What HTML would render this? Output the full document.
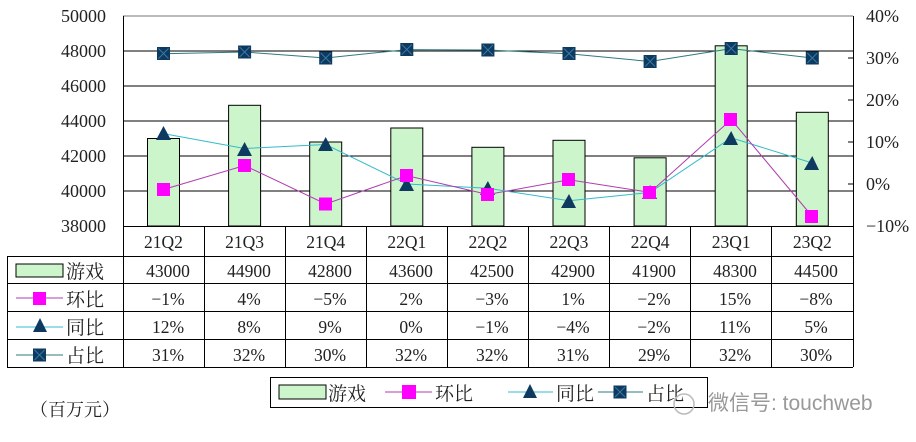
<!DOCTYPE html>
<html><head><meta charset="utf-8"><style>
html,body{margin:0;padding:0;background:#fff;}
svg{display:block;font-family:"Liberation Serif","Noto Serif CJK SC",serif;}
</style></head><body>
<svg width="916" height="442" viewBox="0 0 916 442" xmlns="http://www.w3.org/2000/svg">
<defs>
<g id="xs"><rect x="-6.5" y="-6.5" width="13" height="13" fill="#0d3a5e"/><path d="M-5,-5L5,5M5,-5L-5,5" stroke="#3a7aa8" stroke-width="0.9"/></g>
</defs>
<rect width="916" height="442" fill="#fff"/>
<g stroke="#000" stroke-width="1">
<line x1="123" y1="51" x2="853" y2="51"/>
<line x1="123" y1="86" x2="853" y2="86"/>
<line x1="123" y1="121" x2="853" y2="121"/>
<line x1="123" y1="156" x2="853" y2="156"/>
<line x1="123" y1="191" x2="853" y2="191"/>
</g>
<line x1="123" y1="16" x2="853" y2="16" stroke="#777"/>
<line x1="123.5" y1="16" x2="123.5" y2="367" stroke="#000"/>
<line x1="853.5" y1="16" x2="853.5" y2="256" stroke="#000"/>
<g stroke="#000"><line x1="848" y1="58" x2="853" y2="58"/><line x1="848" y1="100" x2="853" y2="100"/><line x1="848" y1="142" x2="853" y2="142"/><line x1="848" y1="184" x2="853" y2="184"/></g>
<g font-size="18" text-anchor="end" fill="#222">
<text x="106" y="22">50000</text><text x="106" y="57">48000</text><text x="106" y="92">46000</text>
<text x="106" y="127">44000</text><text x="106" y="162">42000</text><text x="106" y="197">40000</text><text x="106" y="232">38000</text>
</g>
<g font-size="18" fill="#222">
<text x="866" y="22">40%</text><text x="866" y="64">30%</text><text x="866" y="106">20%</text>
<text x="866" y="148">10%</text><text x="866" y="190">0%</text><text x="866" y="232">−10%</text>
</g>
<g fill="#ccf5cc" stroke="#000" stroke-width="1">
<rect x="147.5" y="138.5" width="32" height="87.5"/>
<rect x="228.6" y="105.3" width="32" height="120.7"/>
<rect x="309.7" y="142" width="32" height="84"/>
<rect x="390.8" y="128" width="32" height="98"/>
<rect x="471.9" y="147.3" width="32" height="78.7"/>
<rect x="553" y="140.3" width="32" height="85.7"/>
<rect x="634.1" y="157.8" width="32" height="68.2"/>
<rect x="715.2" y="45.8" width="32" height="180.2"/>
<rect x="796.3" y="112.3" width="32" height="113.7"/>
</g>
<polyline fill="none" stroke="#2e7a80" stroke-width="1" points="163.5,53.8 244.6,52 325.7,58 406.8,49.6 487.9,50 569,53.8 650.1,61.5 731.2,48.6 812.3,58"/>
<use href="#xs" x="163.5" y="53.5"/><use href="#xs" x="244.6" y="52"/><use href="#xs" x="325.7" y="58"/>
<use href="#xs" x="406.8" y="49.5"/><use href="#xs" x="487.9" y="50"/><use href="#xs" x="569" y="53.5"/>
<use href="#xs" x="650.1" y="61.5"/><use href="#xs" x="731.2" y="48.5"/><use href="#xs" x="812.3" y="58"/>
<polyline fill="none" stroke="#33bbcc" stroke-width="1" points="163.5,133.6 244.6,148.5 325.7,144.5 406.8,184 487.9,188.2 569,200.8 650.1,192.4 731.2,137.8 812.3,163"/>
<g fill="#0d3a5e">
<polygon points="163.5,126 156,140 171,140"/><polygon points="244.6,142 237,156 252,156"/><polygon points="325.7,137 318,151 333,151"/>
<polygon points="406.8,177 399,191 414,191"/><polygon points="487.9,181 480,195 495,195"/><polygon points="569,194 561,208 576,208"/>
<polygon points="650.1,185 642,199 657,199"/><polygon points="731.2,131 723,145 738,145"/><polygon points="812.3,156 804,170 819,170"/>
</g>
<polyline fill="none" stroke="#b03cb0" stroke-width="1" points="163.5,189.5 244.6,165.5 325.7,204 406.8,175.6 487.9,194.5 569,179.8 650.1,192.4 731.2,119.5 812.3,216.5"/>
<g fill="#ff00ff">
<rect x="157" y="183" width="13" height="13"/><rect x="238" y="159" width="13" height="13"/><rect x="319" y="197.5" width="13" height="13"/>
<rect x="400" y="169" width="13" height="13"/><rect x="481" y="188" width="13" height="13"/><rect x="562" y="173" width="13" height="13"/>
<rect x="643" y="186" width="13" height="13"/><rect x="724" y="113" width="13" height="13"/><rect x="805" y="210" width="13" height="13"/>
</g>
<g stroke="#000" stroke-width="1">
<line x1="123" y1="226.5" x2="853" y2="226.5"/>
<line x1="7" y1="256.5" x2="853" y2="256.5"/>
<line x1="7" y1="283.5" x2="853" y2="283.5"/>
<line x1="7" y1="311.5" x2="853" y2="311.5"/>
<line x1="7" y1="339.5" x2="853" y2="339.5"/>
<line x1="7" y1="367.5" x2="853" y2="367.5"/>
<line x1="7.5" y1="256" x2="7.5" y2="367"/>
<line x1="204.5" y1="226" x2="204.5" y2="367"/><line x1="285.5" y1="226" x2="285.5" y2="367"/>
<line x1="366.5" y1="226" x2="366.5" y2="367"/><line x1="447.5" y1="226" x2="447.5" y2="367"/>
<line x1="528.5" y1="226" x2="528.5" y2="367"/><line x1="609.5" y1="226" x2="609.5" y2="367"/>
<line x1="690.5" y1="226" x2="690.5" y2="367"/><line x1="771.5" y1="226" x2="771.5" y2="367"/>
<line x1="853.5" y1="226" x2="853.5" y2="367"/>
</g>
<g font-size="17.5" text-anchor="middle" fill="#222">
<text x="163.5" y="248">21Q2</text><text x="244.6" y="248">21Q3</text><text x="325.7" y="248">21Q4</text><text x="406.8" y="248">22Q1</text><text x="487.9" y="248">22Q2</text><text x="569" y="248">22Q3</text><text x="650.1" y="248">22Q4</text><text x="731.2" y="248">23Q1</text><text x="812.3" y="248">23Q2</text>
<text x="168" y="277">43000</text><text x="249" y="277">44900</text><text x="330" y="277">42800</text><text x="411" y="277">43600</text><text x="492" y="277">42500</text><text x="573" y="277">42900</text><text x="654" y="277">41900</text><text x="735" y="277">48300</text><text x="816" y="277">44500</text>
<text x="168" y="305">−1%</text><text x="249" y="305">4%</text><text x="330" y="305">−5%</text><text x="411" y="305">2%</text><text x="492" y="305">−3%</text><text x="573" y="305">1%</text><text x="654" y="305">−2%</text><text x="735" y="305">15%</text><text x="816" y="305">−8%</text>
<text x="168" y="333">12%</text><text x="249" y="333">8%</text><text x="330" y="333">9%</text><text x="411" y="333">0%</text><text x="492" y="333">−1%</text><text x="573" y="333">−4%</text><text x="654" y="333">−2%</text><text x="735" y="333">11%</text><text x="816" y="333">5%</text>
<text x="168" y="361">31%</text><text x="249" y="361">32%</text><text x="330" y="361">30%</text><text x="411" y="361">32%</text><text x="492" y="361">32%</text><text x="573" y="361">31%</text><text x="654" y="361">29%</text><text x="735" y="361">32%</text><text x="816" y="361">30%</text>
</g>
<rect x="16" y="264" width="47" height="13" fill="#ccf5cc" stroke="#000"/>
<line x1="16" y1="298" x2="63" y2="298" stroke="#b03cb0"/><rect x="33" y="292" width="13" height="13" fill="#ff00ff"/>
<line x1="16" y1="327" x2="63" y2="327" stroke="#33bbcc"/><polygon points="40,318 33,332 47,332" fill="#0d3a5e"/>
<line x1="16" y1="355" x2="63" y2="355" stroke="#2e7a80"/><use href="#xs" x="39.5" y="355"/>
<g font-size="19" fill="#222">
<text x="66" y="278">游戏</text><text x="66" y="306">环比</text><text x="66" y="334">同比</text><text x="66" y="362">占比</text>
</g>
<rect x="270.5" y="377.5" width="437" height="30" fill="#fff" stroke="#000"/>
<rect x="279" y="385" width="47" height="14" fill="#ccf5cc" stroke="#000"/>
<line x1="385" y1="392" x2="432" y2="392" stroke="#b03cb0"/><rect x="402" y="385" width="14" height="14" fill="#ff00ff"/>
<line x1="508" y1="392" x2="553" y2="392" stroke="#33bbcc"/><polygon points="530,384 523,398 537,398" fill="#0d3a5e"/>
<line x1="598" y1="392" x2="643" y2="392" stroke="#2e7a80"/><use href="#xs" x="620" y="392"/>
<g font-size="19" fill="#222">
<text x="328" y="400">游戏</text><text x="435" y="400">环比</text><text x="556" y="400">同比</text><text x="646" y="400">占比</text>
</g>
<text x="30" y="416" font-size="18" fill="#222">（百万元）</text>
<circle cx="684" cy="404" r="10" fill="none" stroke="#bbb" stroke-width="1.5"/>
<text x="708" y="410" font-size="21" fill="#999" font-family="Liberation Sans, Noto Sans CJK SC, sans-serif">微信号: touchweb</text>
</svg>
</body></html>
